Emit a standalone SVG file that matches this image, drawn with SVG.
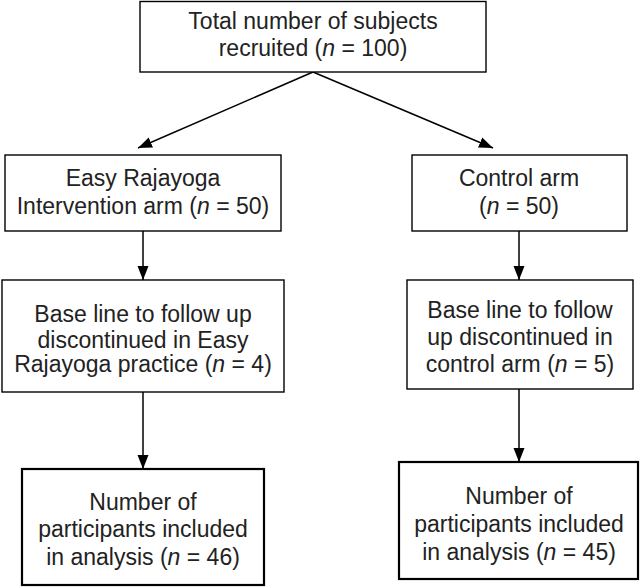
<svg xmlns="http://www.w3.org/2000/svg" width="642" height="588" viewBox="0 0 642 588">
<defs>
<style>
.box{fill:#fff;stroke:#000;stroke-width:1.4}
.box2{fill:#fff;stroke:#000;stroke-width:2.2}
.t{font-family:"Liberation Sans",Arial,sans-serif;font-size:23px;fill:#222;text-anchor:middle}
.c{stroke:#000;stroke-width:1.5;fill:none}
</style>
<marker id="ah" markerUnits="userSpaceOnUse" markerWidth="14" markerHeight="14" viewBox="0 0 14 14" refX="14" refY="7" orient="auto">
<path d="M0,1.5 L14,7 L0,12.5 Z" fill="#000"/>
</marker>
</defs>
<rect width="642" height="588" fill="#fff"/>
<g id="connectors">
<line class="c" x1="313" y1="72" x2="138" y2="148" marker-end="url(#ah)"/>
<line class="c" x1="313" y1="72" x2="493" y2="148" marker-end="url(#ah)"/>
<line class="c" x1="143" y1="231" x2="143" y2="280" marker-end="url(#ah)"/>
<line class="c" x1="143" y1="392" x2="143" y2="469" marker-end="url(#ah)"/>
<line class="c" x1="519" y1="231" x2="519" y2="280" marker-end="url(#ah)"/>
<line class="c" x1="519" y1="389" x2="519" y2="462" marker-end="url(#ah)"/>
</g>
<g id="n1">
<rect class="box" x="140" y="1.5" width="346" height="70.5"/>
<text class="t" x="313" y="29">Total number of subjects</text>
<text class="t" x="313" y="56">recruited (<tspan font-style="italic">n</tspan> = 100)</text>
</g>
<g id="n2">
<rect class="box" x="5" y="155" width="276" height="76"/>
<text class="t" x="143" y="186">Easy Rajayoga</text>
<text class="t" x="143" y="214">Intervention arm (<tspan font-style="italic">n</tspan> = 50)</text>
</g>
<g id="n3">
<rect class="box" x="412" y="155" width="215" height="76"/>
<text class="t" x="519" y="186">Control arm</text>
<text class="t" x="519" y="214">(<tspan font-style="italic">n</tspan> = 50)</text>
</g>
<g id="n4">
<rect class="box" x="2" y="280" width="282" height="112"/>
<text class="t" x="143" y="322">Base line to follow up</text>
<text class="t" x="143" y="348">discontinued in Easy</text>
<text class="t" x="143" y="372">Rajayoga practice (<tspan font-style="italic">n</tspan> = 4)</text>
</g>
<g id="n5">
<rect class="box" x="407" y="280" width="226" height="109"/>
<text class="t" x="520" y="318">Base line to follow</text>
<text class="t" x="520" y="345">up discontinued in</text>
<text class="t" x="520" y="372">control arm (<tspan font-style="italic">n</tspan> = 5)</text>
</g>
<g id="n6">
<rect class="box2" x="22" y="469" width="242" height="116"/>
<text class="t" x="143" y="510">Number of</text>
<text class="t" x="143" y="537">participants included</text>
<text class="t" x="143" y="565">in analysis (<tspan font-style="italic">n</tspan> = 46)</text>
</g>
<g id="n7">
<rect class="box2" x="399" y="462" width="239" height="117"/>
<text class="t" x="519" y="504">Number of</text>
<text class="t" x="519" y="532">participants included</text>
<text class="t" x="519" y="560">in analysis (<tspan font-style="italic">n</tspan> = 45)</text>
</g>
</svg>
